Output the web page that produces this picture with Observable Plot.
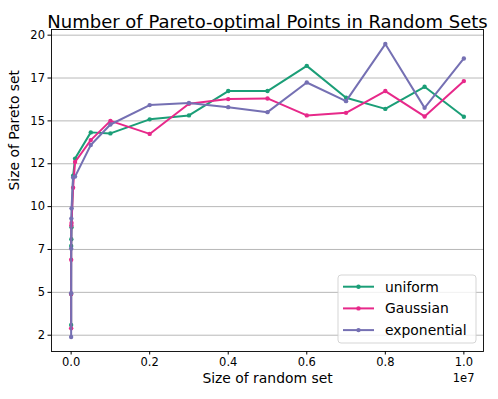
<!DOCTYPE html>
<html><head><meta charset="utf-8">
<script src="https://cdn.jsdelivr.net/npm/d3@7"></script>
<script src="https://cdn.jsdelivr.net/npm/@observablehq/plot@0.6"></script>
<style>body{margin:0;background:#fff;font-family:"DejaVu Sans";}</style>
</head><body><div id="chart"></div>
<script>
const sizes = [10, 100, 1000, 5000, 10000, 50000, 100000, 500000, 1e6, 2e6, 3e6, 4e6, 5e6, 6e6, 7e6, 8e6, 9e6, 1e7];
const uniform = [3.1, 4.9, 7.7, 8.1, 8.8, 11.8, 12.8, 14.33, 14.27, 15.09, 15.32, 16.74, 16.74, 18.21, 16.35, 15.7, 16.99, 15.24];
const gaussian = [2.9, 4.9, 6.9, 8.9, 9.05, 11.1, 12.6, 13.88, 15.0, 14.24, 16.0, 16.27, 16.31, 15.32, 15.47, 16.74, 15.26, 17.32];
const exponential = [2.4, 4.95, 7.55, 9.3, 9.9, 11.7, 11.75, 13.59, 14.79, 15.92, 16.04, 15.8, 15.51, 17.24, 16.15, 19.48, 15.76, 18.64];
const seriesNames = ["uniform", "Gaussian", "exponential"];
const seriesColors = ["#1b9e77", "#e7298a", "#7570b3"];
const xTicks = [0, 2e6, 4e6, 6e6, 8e6, 1e7];
const yTicks = [2.5, 5, 7.5, 10, 12.5, 15, 17.5, 20];
const title = "Number of Pareto-optimal Points in Random Sets";
const xLabel = "Size of random set";
const yLabel = "Size of Pareto set";
const offsetLabel = "1e7";

const seriesData = [uniform, gaussian, exponential].map((vals, i) =>
  vals.map((v, j) => ({series: seriesNames[i], size: sizes[j], value: v})));

const seriesMarks = seriesData.flatMap((rows, i) => [
  Plot.line(rows, {x: "size", y: "value", stroke: seriesColors[i], strokeWidth: 2}),
  Plot.dot(rows, {x: "size", y: "value", fill: seriesColors[i], r: 2.2})
]);

const chart = Plot.plot({
  width: 498, height: 399,
  marginLeft: 51, marginRight: 15, marginTop: 29, marginBottom: 48,
  style: {fontFamily: "DejaVu Sans", fontSize: "11.5px", color: "#000", background: "#fff", overflow: "visible"},
  x: {domain: [-5e5, 1.05e7]},
  y: {domain: [1.55, 20.33]},
  marks: [
    Plot.gridY(yTicks, {stroke: "#b0b0b0", strokeOpacity: 1, strokeWidth: 0.9}),
    Plot.axisX(xTicks, {tickSize: 3.5, tickPadding: 3, tickFormat: d => (d / 1e7).toFixed(1), label: null, fontSize: 11.5}),
    Plot.axisY(yTicks, {tickSize: 3.5, tickPadding: 3, tickFormat: d => String(Math.floor(d)), label: null, fontSize: 11.5}),
    ...seriesMarks,
    Plot.frame({stroke: "#000", strokeWidth: 0.9}),
    Plot.text([title], {frameAnchor: "top", dy: -14.3, fontSize: 18, text: d => d}),
    Plot.text([xLabel], {frameAnchor: "bottom", dy: 31, fontSize: 13.9, text: d => d}),
    Plot.text([yLabel], {frameAnchor: "left", dx: -36.5, rotate: -90, fontSize: 13.9, text: d => d}),
    Plot.text([offsetLabel], {frameAnchor: "bottom-right", dx: -9, dy: 30, textAnchor: "end", fontSize: 11.5, text: d => d})
  ]
});
document.getElementById("chart").appendChild(chart);

// legend (matplotlib-style, lower right)
const svg = d3.select(chart);
const lg = svg.append("g").attr("font-family", "DejaVu Sans").attr("font-size", 13.9).attr("text-anchor", "start");
const bx = 338, by = 275, bw = 138, bh = 68;
lg.append("rect").attr("x", bx).attr("y", by).attr("width", bw).attr("height", bh)
  .attr("rx", 3).attr("fill", "#fff").attr("fill-opacity", 0.8).attr("stroke", "#d0d0d0").attr("stroke-width", 0.9);
seriesNames.forEach((name, i) => {
  const cy = by + 11.7 + i * 21.7;
  lg.append("line").attr("x1", bx + 5).attr("x2", bx + 36).attr("y1", cy).attr("y2", cy)
    .attr("stroke", seriesColors[i]).attr("stroke-width", 2);
  lg.append("circle").attr("cx", bx + 20.5).attr("cy", cy).attr("r", 2.2).attr("fill", seriesColors[i]);
  lg.append("text").attr("x", bx + 47).attr("y", cy).attr("dy", "0.35em").attr("text-anchor", "start").attr("fill", "#000").text(name);
});
</script>
</body></html>
